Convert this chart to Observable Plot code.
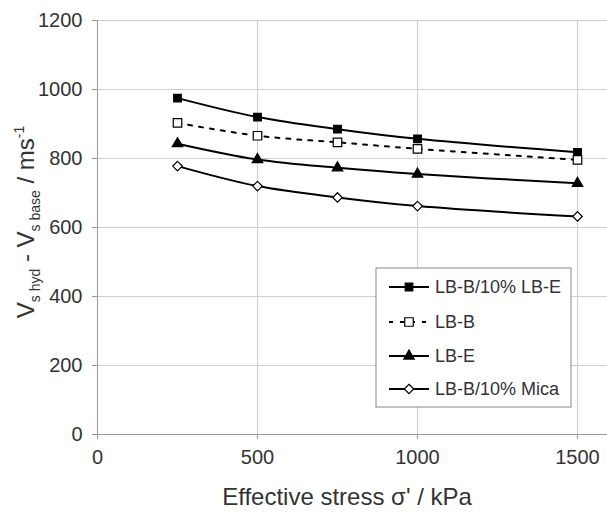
<!DOCTYPE html>
<html><head><meta charset="utf-8">
<script src="https://cdn.jsdelivr.net/npm/d3@7"></script>
<script src="https://cdn.jsdelivr.net/npm/@observablehq/plot@0.6"></script>
<style>body{margin:0;background:#fff}svg{font-family:"Liberation Sans",Arial,sans-serif}</style>
</head><body><div id="chart"></div>
<script>
const stress = [250, 500, 750, 1000, 1500];
const seriesNames = ["LB-B/10% LB-E", "LB-B", "LB-E", "LB-B/10% Mica"];
const lbb10lbe = [975, 920, 885, 857, 818];
const lbb = [903, 866, 847, 828, 796];
const lbe = [843, 797, 773, 755, 728];
const lbb10mica = [778, 720, 687, 662, 632];
const xTicks = [0, 500, 1000, 1500];
const yTicks = [0, 200, 400, 600, 800, 1000, 1200];

const allVals = [lbb10lbe, lbb, lbe, lbb10mica];
const styles = [
  {symbol: "square", fill: "black", r: 4.3, dash: null},
  {symbol: "square", fill: "white", r: 4.8, dash: "4,7"},
  {symbol: "triangle", fill: "black", r: 3.9, dash: null},
  {symbol: "diamond2", fill: "white", r: 4.3, dash: null}
];
const rows = [];
seriesNames.forEach((s, i) => stress.forEach((x, j) => rows.push({series: s, idx: i, x, y: allVals[i][j]})));

const fmt = d3.format("d");
const marks = [
  Plot.gridX(xTicks.slice(1), {stroke: "#cfcfcf", strokeOpacity: 1}),
  Plot.gridY(yTicks.slice(1), {stroke: "#cfcfcf", strokeOpacity: 1}),
  Plot.ruleX([0], {stroke: "#999"}),
  Plot.ruleY([0], {stroke: "#999"}),
  Plot.axisX(xTicks, {tickSize: 5, fontSize: 20, tickPadding: 10, stroke: "#999", color: "#333", label: null, tickFormat: fmt}),
  Plot.axisY(yTicks, {tickSize: 5, fontSize: 20, tickPadding: 10, stroke: "#999", color: "#333", label: null, tickFormat: fmt})
];
seriesNames.forEach((s, i) => {
  const d = rows.filter(r => r.idx === i);
  marks.push(Plot.line(d, {x: "x", y: "y", curve: "catmull-rom", stroke: "black", strokeWidth: 2, strokeDasharray: styles[i].dash}));
});
seriesNames.forEach((s, i) => {
  const d = rows.filter(r => r.idx === i);
  marks.push(Plot.dot(d, {x: "x", y: "y", symbol: () => styles[i].symbol, fill: styles[i].fill, stroke: "black", strokeWidth: 1.2, r: styles[i].r}));
});

const chart = Plot.plot({
  width: 607, height: 513,
  marginLeft: 97, marginRight: -2, marginTop: 20, marginBottom: 79,
  x: {domain: [0, 1600]},
  y: {domain: [0, 1200]},
  style: {fontFamily: "Liberation Sans, Arial, sans-serif", background: "white"},
  marks
});
document.getElementById("chart").appendChild(chart);

const svg = d3.select(chart);
// axis titles
const xt = svg.append("text").attr("x", 347).attr("y", 505).attr("text-anchor", "middle")
  .attr("font-size", 24).attr("fill", "#333");
xt.append("tspan").text("Effective stress ");
xt.append("tspan").text("σ' / kPa");

const yt = svg.append("text").attr("transform", "translate(34,222) rotate(-90)")
  .attr("text-anchor", "middle").attr("font-size", 24).attr("fill", "#333");
yt.append("tspan").text("V");
yt.append("tspan").attr("font-size", 14).attr("dy", 6).text("s hyd");
yt.append("tspan").attr("dy", -6).text(" - V");
yt.append("tspan").attr("font-size", 14).attr("dy", 6).text("s base");
yt.append("tspan").attr("dy", -6).text(" / ms");
yt.append("tspan").attr("font-size", 14).attr("dy", -10).text("-1");

// legend
const lg = svg.append("g").attr("text-anchor", "start");
lg.append("rect").attr("x", 376).attr("y", 268).attr("width", 195).attr("height", 139)
  .attr("fill", "white").attr("stroke", "#888").attr("stroke-width", 1);
const rowY = [287, 322, 356, 389];
const symMap = {square: d3.symbolSquare, triangle: d3.symbolTriangle, diamond2: d3.symbolDiamond2};
seriesNames.forEach((s, i) => {
  const y = rowY[i];
  lg.append("line").attr("x1", 389).attr("x2", 429).attr("y1", y).attr("y2", y)
    .attr("stroke", "black").attr("stroke-width", 2).attr("stroke-dasharray", styles[i].dash);
  const r = styles[i].r;
  lg.append("path").attr("transform", `translate(409,${y})`)
    .attr("d", d3.symbol(symMap[styles[i].symbol], Math.PI * r * r)())
    .attr("fill", styles[i].fill).attr("stroke", "black").attr("stroke-width", 1.2);
  lg.append("text").attr("x", 435).attr("y", y).attr("dy", "0.35em").attr("font-size", 18)
    .attr("text-anchor", "start").attr("fill", "#333").text(s);
});
</script></body></html>
